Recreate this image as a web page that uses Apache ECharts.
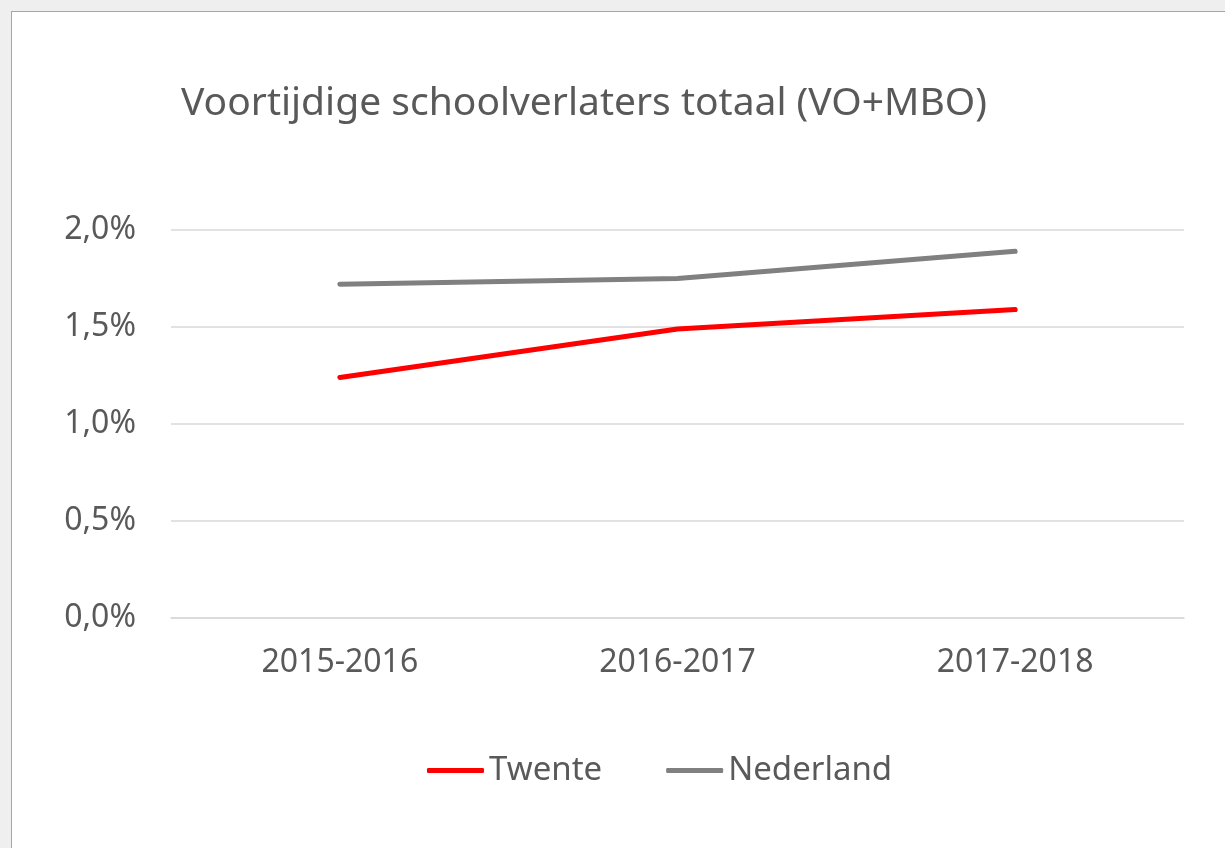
<!DOCTYPE html>
<html>
<head>
<meta charset="utf-8">
<script src="https://cdn.jsdelivr.net/npm/echarts@6/dist/echarts.min.js"></script>
<style>
html, body { margin: 0; padding: 0; background: #efefef; }
#main { position: absolute; left: 11px; top: 11px; width: 1230px; height: 850px; background: #fff; border: 1px solid #a6a6a6; }
</style>
</head>
<body>
<div id="main"></div>
<script>
// schooljaren en percentages
var years = ['2015-2016', '2016-2017', '2017-2018'];
var twente = [1.24, 1.49, 1.59];
var nederland = [1.72, 1.75, 1.89];
var yTicks = [0, 0.5, 1, 1.5, 2];

var myChart = echarts.init(document.getElementById('main'));
var option = {
    animation: false,
    textStyle: { fontFamily: 'Noto Sans', color: '#595959' },
    title: {
        text: 'Voortijdige schoolverlaters totaal (VO+MBO)',
        left: 164,
        top: 67,
        textStyle: { fontSize: 39, fontWeight: 'normal', color: '#595959', fontFamily: 'Noto Sans' }
    },
    legend: {
        left: 410,
        top: 737,
        icon: 'roundRect',
        itemWidth: 57,
        itemHeight: 5,
        itemGap: 64,
        textStyle: { fontSize: 33, color: '#595959' },
        data: ['Twente', 'Nederland']
    },
    grid: {
        left: 159,
        right: 58,
        top: 218,
        bottom: 244
    },
    xAxis: {
        type: 'category',
        data: years,
        axisLine: { lineStyle: { color: '#d9d9d9', width: 1.5 } },
        axisTick: { length: 11, lineStyle: { color: '#d9d9d9', width: 1.5 } },
        axisLabel: { fontSize: 32, color: '#595959', margin: 29 }
    },
    yAxis: {
        type: 'value',
        min: 0,
        max: 2,
        interval: 0.5,
        axisLine: { show: false },
        axisTick: { show: false },
        splitLine: { lineStyle: { color: '#d9d9d9', width: 1.5 } },
        axisLabel: {
            fontSize: 32,
            color: '#595959',
            margin: 35,
            formatter: function (v) {
                return v.toFixed(1).replace('.', ',') + '%';
            }
        }
    },
    series: [{
        name: 'Twente',
        type: 'line',
        data: twente,
        showSymbol: false,
        lineStyle: { width: 5, color: '#ff0000', cap: 'round' },
        itemStyle: { color: '#ff0000' }
    }, {
        name: 'Nederland',
        type: 'line',
        data: nederland,
        showSymbol: false,
        lineStyle: { width: 5, color: '#808080', cap: 'round' },
        itemStyle: { color: '#808080' }
    }]
};
myChart.setOption(option);
</script>
</body>
</html>
